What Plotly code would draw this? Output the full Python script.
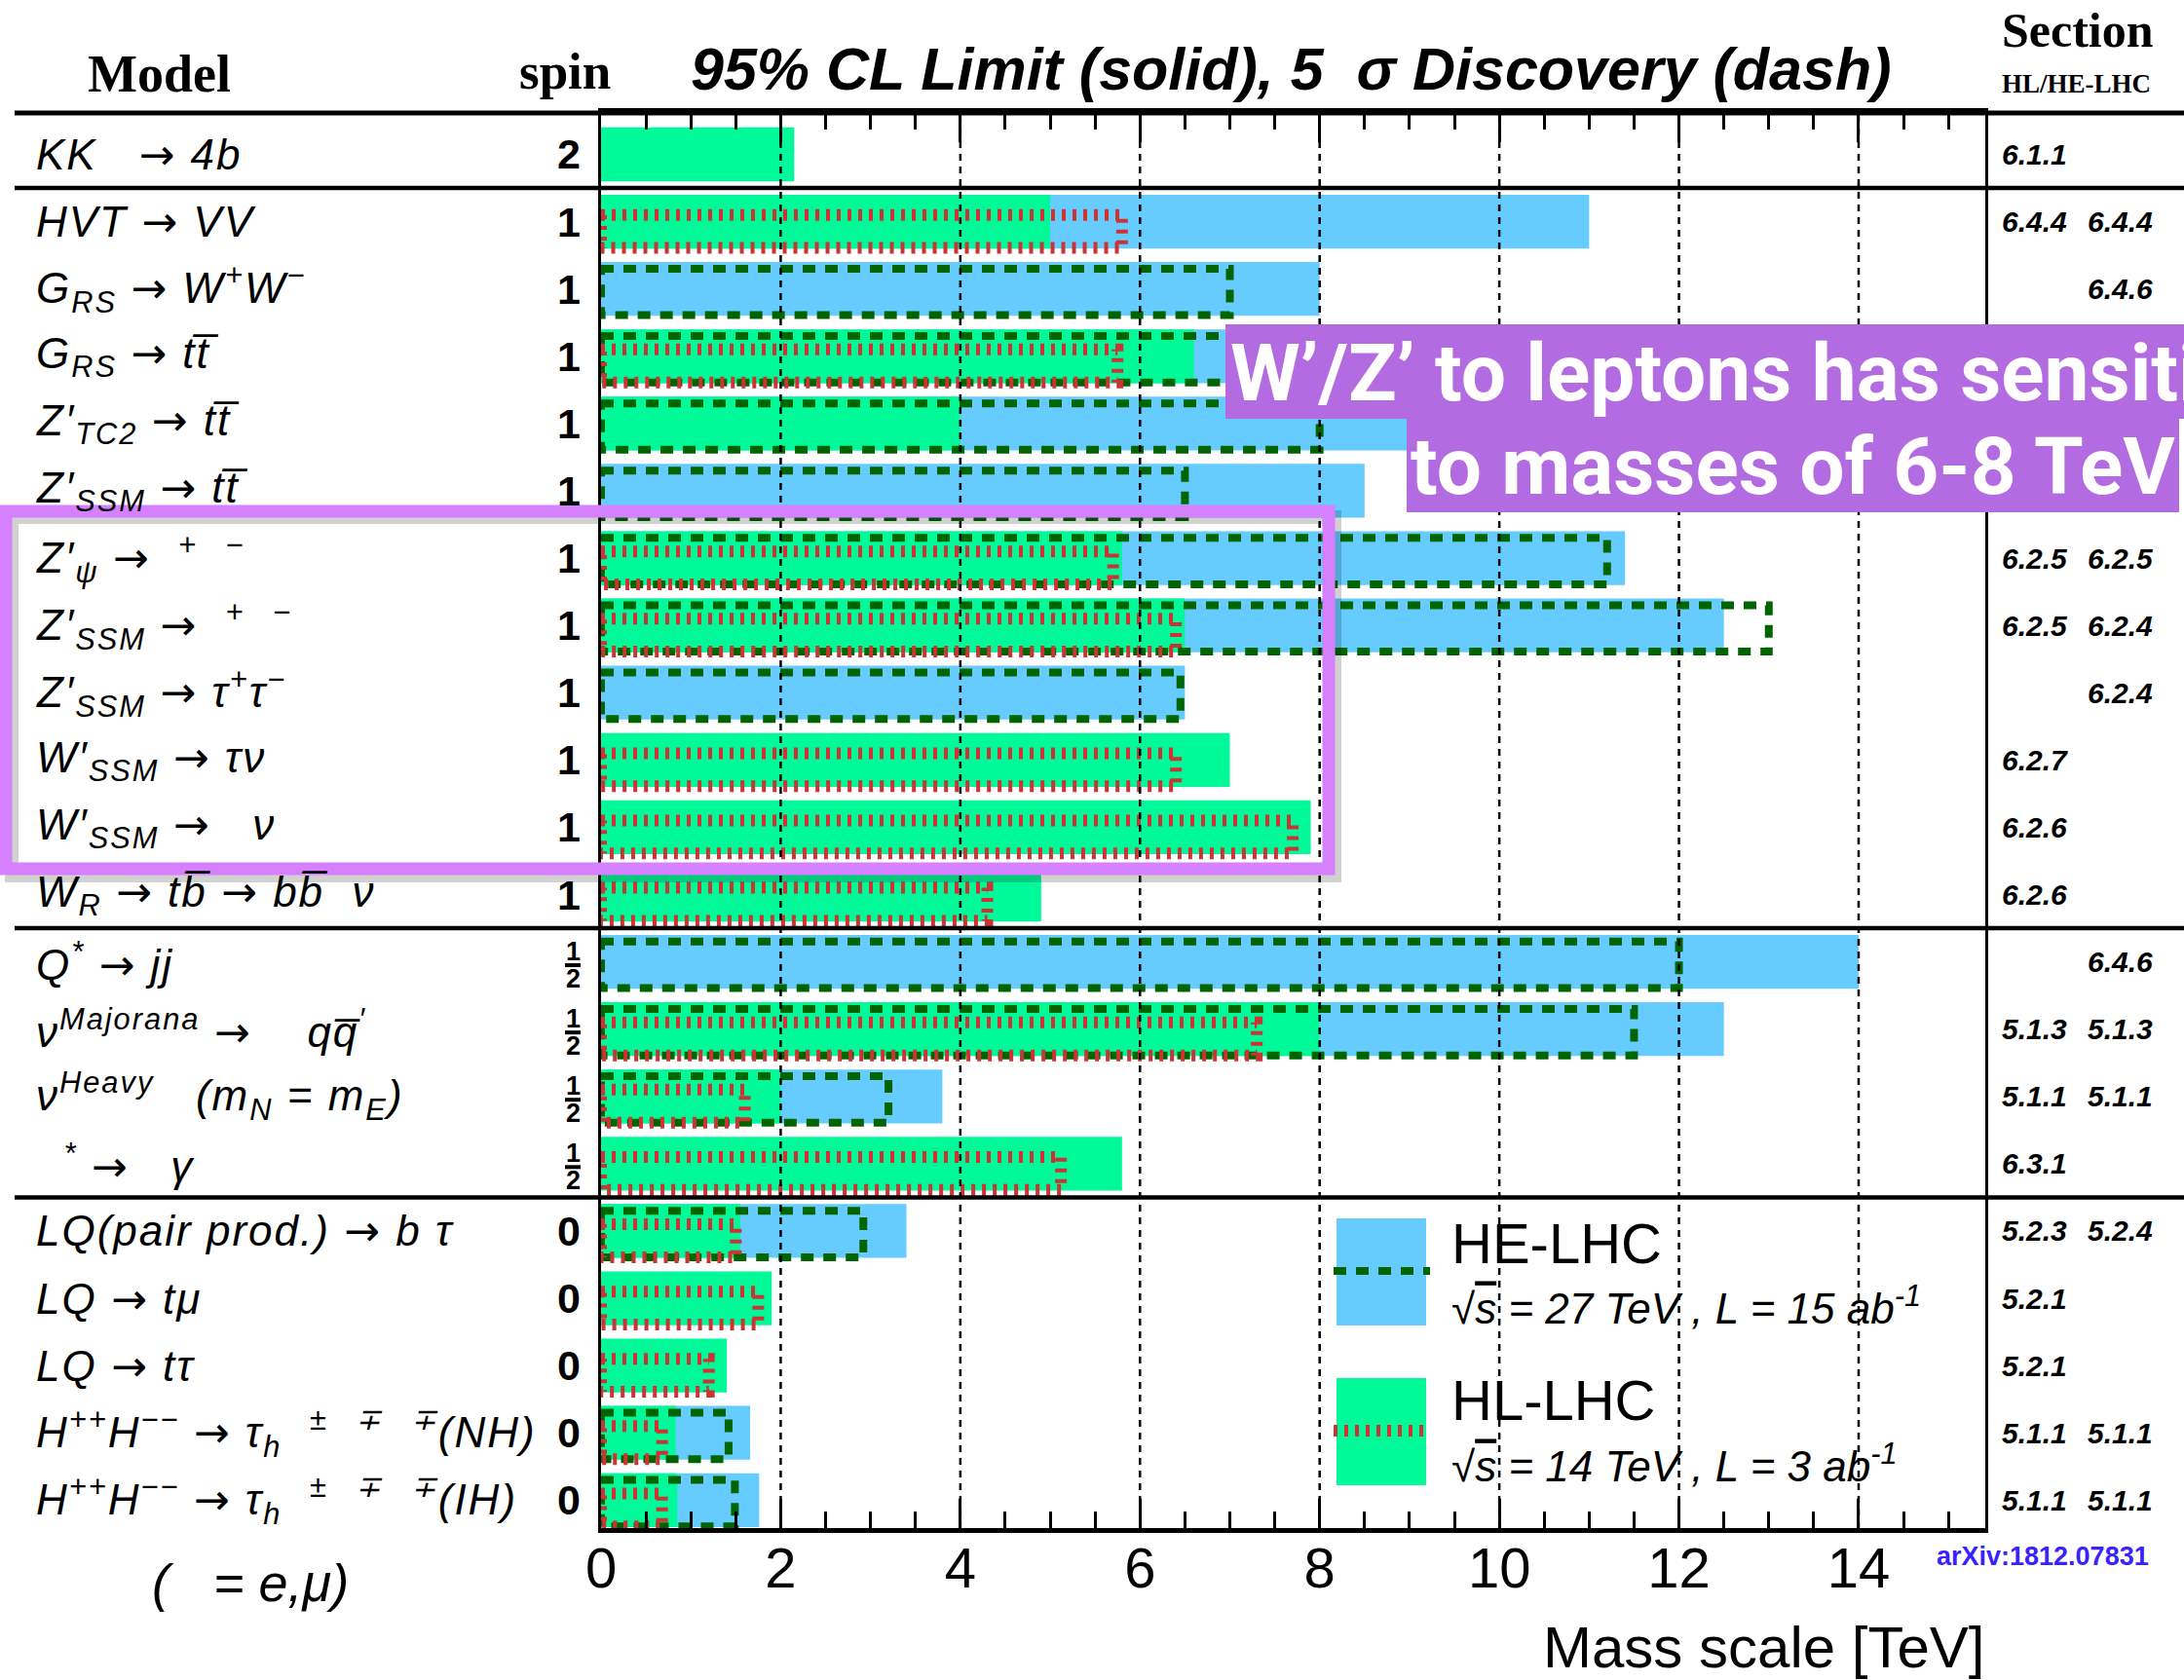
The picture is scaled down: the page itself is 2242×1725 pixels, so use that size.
import plotly.graph_objects as go

# ---------------- data ----------------
NB = "\u00a0"
OV = "\u0305"  # combining overline
AR = "<span style='font-family:DejaVu Sans'>→</span>"

models = [
    f"KK{NB}{NB} {AR} 4b",
    f"HVT {AR} VV",
    f"G<sub>RS</sub> {AR} W<sup>+</sup>W<sup>−</sup>",
    f"G<sub>RS</sub> {AR} tt{OV}",
    f"Z′<sub>TC2</sub> {AR} tt{OV}",
    f"Z′<sub>SSM</sub> {AR} tt{OV}",
    f"Z′<sub>ψ</sub> {AR}{NB*2}<sup>+</sup>{NB*2}<sup>−</sup>",
    f"Z′<sub>SSM</sub> {AR}{NB*2}<sup>+</sup>{NB*2}<sup>−</sup>",
    f"Z′<sub>SSM</sub> {AR} τ<sup>+</sup>τ<sup>−</sup>",
    f"W′<sub>SSM</sub> {AR} τν",
    f"W′<sub>SSM</sub> {AR}{NB*3}ν",
    f"W<sub>R</sub> {AR} tb{OV} {AR} bb{OV}{NB*2}ν",
    f"Q<sup>*</sup> {AR} jj",
    f"ν<sup>Majorana</sup> {AR}{NB*4}qq{OV}<sup>′</sup>",
    f"ν<sup>Heavy</sup>{NB*3}(m<sub>N</sub> = m<sub>E</sub>)",
    f"{NB*2}<sup>*</sup> {AR}{NB*3}γ",
    f"LQ(pair prod.) {AR} b τ",
    f"LQ {AR} tμ",
    f"LQ {AR} tτ",
    f"H<sup>++</sup>H<sup>−−</sup> {AR} τ<sub>h</sub>{NB*2}<sup>±</sup>{NB*2}<sup>∓</sup>{NB*2}<sup>∓</sup>(NH)",
    f"H<sup>++</sup>H<sup>−−</sup> {AR} τ<sub>h</sub>{NB*2}<sup>±</sup>{NB*2}<sup>∓</sup>{NB*2}<sup>∓</sup>(IH)",
]
spins = ["2", "1", "1", "1", "1", "1", "1", "1", "1", "1", "1", "1",
         "1/2", "1/2", "1/2", "1/2", "0", "0", "0", "0", "0"]

# HE-LHC (27 TeV, 15 ab-1): 95% CL limit (solid) and 5 sigma discovery (dash), TeV
he_limit = [None, 11.0, 8.0, 9.5, 10.5, 8.5, 11.4, 12.5, 6.5, None, None, None,
            14.0, 12.5, 3.8, None, 3.4, None, None, 1.66, 1.76]
he_disc = [None, None, 7.0, 8.3, 8.0, 6.5, 11.2, 13.0, 6.45, None, None, None,
           12.0, 11.5, 3.2, None, 2.92, None, None, 1.42, 1.49]
# HL-LHC (14 TeV, 3 ab-1)
hl_limit = [2.15, 5.0, None, 6.6, 4.0, None, 5.8, 6.5, None, 7.0, 7.9, 4.9,
            None, 8.0, 2.0, 5.8, 1.55, 1.9, 1.4, 0.83, 0.85]
hl_disc = [None, 5.8, None, 5.75, None, None, 5.7, 6.4, None, 6.4, 7.7, 4.3,
           None, 7.3, 1.6, 5.12, 1.5, 1.75, 1.2, 0.68, 0.68]

sec_hl = ["6.1.1", "6.4.4", "", "", "", "", "6.2.5", "6.2.5", "", "6.2.7", "6.2.6", "6.2.6",
          "", "5.1.3", "5.1.1", "6.3.1", "5.2.3", "5.2.1", "5.2.1", "5.1.1", "5.1.1"]
sec_he = ["", "6.4.4", "6.4.6", "", "", "", "6.2.5", "6.2.4", "6.2.4", "", "", "",
          "6.4.6", "5.1.3", "5.1.1", "", "5.2.4", "", "", "5.1.1", "5.1.1"]

tick_vals = [0, 2, 4, 6, 8, 10, 12, 14]
group_breaks = [0.5, 11.5, 15.5]

# ---------------- style / geometry ----------------
W, H = 2242, 1725
ML, MR, MT, MB = 617, 204, 116, 156
PW = W - ML - MR
PH = H - MT - MB
XMAX = 15.41
Y_TOP, Y_BOT = -0.615, 20.415

BLUE = "#66CCFF"
GREEN = "#00FA9A"
DKGREEN = "#006400"
RED = "#CC3333"
SANS = "Liberation Sans"
SERIF = "Liberation Serif"


def X(px):
    return (px - ML) / PW


def Y(py):
    return 1 - (py - MT) / PH


def present(vals):
    xs = [v for v in vals if v is not None]
    ys = [i for i, v in enumerate(vals) if v is not None]
    return xs, ys


def box_path(vals, top, bot):
    xs, ys = [], []
    for i, v in enumerate(vals):
        if v is None:
            continue
        xs += [0, v, v, 0, 0, None]
        ys += [i + top, i + top, i + bot, i + bot, i + top, None]
    return xs, ys


fig = go.Figure()

bx, by = present(he_limit)
fig.add_trace(go.Bar(x=bx, y=by, orientation="h", width=0.8, base=0,
                     marker=dict(color=BLUE, line=dict(width=0)), name="HE-LHC"))
gx, gy = present(hl_limit)
fig.add_trace(go.Bar(x=gx, y=gy, orientation="h", width=0.8, base=0,
                     marker=dict(color=GREEN, line=dict(width=0)), name="HL-LHC"))

hx, hy = box_path(he_disc, -0.30, 0.39)
fig.add_trace(go.Scatter(x=hx, y=hy, mode="lines",
                         line=dict(color=DKGREEN, width=8, dash="13px,10px"),
                         name="HE-LHC discovery"))
rx, ry = box_path(hl_disc, -0.10, 0.39)
fig.add_trace(go.Scatter(x=rx, y=ry, mode="lines",
                         line=dict(color=RED, width=12, dash="4px,7px"),
                         name="HL-LHC discovery"))

shapes = []
ann = []

# dashed vertical grid on top of bars
for v in tick_vals[1:]:
    shapes.append(dict(type="line", xref="x", yref="paper", x0=v, x1=v, y0=0, y1=1,
                       line=dict(color="black", width=2.5, dash="7px,6px"), layer="above"))

# horizontal separators
shapes.append(dict(type="line", xref="paper", yref="paper", x0=X(15), x1=X(W + 5), y0=1, y1=1,
                   line=dict(color="black", width=5), layer="above"))
for b in group_breaks:
    shapes.append(dict(type="line", xref="paper", yref="y", x0=X(15), x1=X(W + 5), y0=b, y1=b,
                       line=dict(color="black", width=4.5), layer="above"))

# legend (drawn by hand)
shapes += [
    dict(type="rect", xref="paper", yref="paper", x0=X(1372), x1=X(1464), y0=Y(1361), y1=Y(1251),
         fillcolor=BLUE, line=dict(width=0), layer="above"),
    dict(type="line", xref="paper", yref="paper", x0=X(1369), x1=X(1468), y0=Y(1305), y1=Y(1305),
         line=dict(color=DKGREEN, width=8, dash="13px,10px"), layer="above"),
    dict(type="rect", xref="paper", yref="paper", x0=X(1372), x1=X(1464), y0=Y(1525), y1=Y(1415),
         fillcolor=GREEN, line=dict(width=0), layer="above"),
    dict(type="line", xref="paper", yref="paper", x0=X(1369), x1=X(1468), y0=Y(1469), y1=Y(1469),
         line=dict(color=RED, width=12, dash="4px,7px"), layer="above"),
]

# purple call-out boxes
PURPLE = "#B36BE2"
shapes += [
    dict(type="rect", xref="paper", yref="paper", x0=X(1258), x1=X(W + 10), y0=Y(430), y1=Y(333),
         fillcolor=PURPLE, line=dict(width=0), layer="above"),
    dict(type="rect", xref="paper", yref="paper", x0=X(1444), x1=X(2237), y0=Y(526), y1=Y(429),
         fillcolor=PURPLE, line=dict(width=0), layer="above"),
]
# magenta highlight frame with soft shadow
shapes += [
    dict(type="rect", xref="paper", yref="paper", x0=X(12), x1=X(1370), y0=Y(899), y1=Y(531),
         line=dict(color="rgba(0,0,0,0.18)", width=14), layer="above"),
    dict(type="rect", xref="paper", yref="paper", x0=X(6), x1=X(1364), y0=Y(892), y1=Y(525),
         line=dict(color="#D580FF", width=13), layer="above"),
]

LS = "letter-spacing:2px"

# row labels, spins and section numbers
for i, m in enumerate(models):
    ann.append(dict(text=f"<span style='{LS}'><i>{m}</i></span>", xref="paper", yref="y",
                    x=X(35), y=i, xanchor="left", yanchor="middle", showarrow=False,
                    font=dict(family=SANS, size=44, color="black")))
    s = spins[i]
    if s == "1/2":
        ann.append(dict(text="<b>1</b>", xref="paper", yref="y", x=X(588), y=i, yshift=11,
                        xanchor="center", yanchor="middle", showarrow=False,
                        font=dict(family=SANS, size=27, color="black")))
        ann.append(dict(text="<b>2</b>", xref="paper", yref="y", x=X(588), y=i, yshift=-17,
                        xanchor="center", yanchor="middle", showarrow=False,
                        font=dict(family=SANS, size=27, color="black")))
        shapes.append(dict(type="line", xref="paper", yref="y", x0=X(580), x1=X(596),
                           y0=i + 0.05, y1=i + 0.05, line=dict(color="black", width=4)))
    else:
        ann.append(dict(text=f"<b>{s}</b>", xref="paper", yref="y", x=X(598), y=i,
                        xanchor="right", yanchor="middle", showarrow=False,
                        font=dict(family=SANS, size=43, color="black")))
    if sec_hl[i]:
        ann.append(dict(text=f"<b><i>{sec_hl[i]}</i></b>", xref="paper", yref="y", x=X(2053), y=i,
                        xanchor="left", yanchor="middle", showarrow=False,
                        font=dict(family=SANS, size=30, color="black")))
    if sec_he[i]:
        ann.append(dict(text=f"<b><i>{sec_he[i]}</i></b>", xref="paper", yref="y", x=X(2141), y=i,
                        xanchor="left", yanchor="middle", showarrow=False,
                        font=dict(family=SANS, size=30, color="black")))

# header texts
ann += [
    dict(text="<b>Model</b>", x=X(163), y=Y(76), xanchor="center", yanchor="middle",
         font=dict(family=SERIF, size=54, color="black")),
    dict(text="<b>spin</b>", x=X(580), y=Y(73), xanchor="center", yanchor="middle",
         font=dict(family=SERIF, size=53, color="black")),
    dict(text="<b><i>95% CL Limit (solid), 5" + NB * 2 + "σ Discovery (dash)</i></b>",
         x=X(1325), y=Y(71), xanchor="center", yanchor="middle",
         font=dict(family=SANS, size=61, color="black")),
    dict(text="<b>Section</b>", x=X(2053), y=Y(31), xanchor="left", yanchor="middle",
         font=dict(family=SERIF, size=50, color="black")),
    dict(text="<b>HL/HE-LHC</b>", x=X(2053), y=Y(86), xanchor="left", yanchor="middle",
         font=dict(family=SERIF, size=27, color="black")),
    dict(text="<i>(" + NB * 3 + "= e,μ)</i>", x=X(154), y=Y(1625), xanchor="left", yanchor="middle",
         font=dict(family=SANS, size=54, color="black")),
    dict(text="<b>arXiv:1812.07831</b>", x=X(1986), y=Y(1598), xanchor="left", yanchor="middle",
         font=dict(family=SANS, size=27, color="#3A1FFF")),
    dict(text="Mass scale [TeV]", x=X(2040), y=Y(1692), xanchor="right", yanchor="middle",
         font=dict(family=SANS, size=60, color="black")),
    # legend texts
    dict(text="HE-LHC", x=X(1488), y=Y(1276), xanchor="left", yanchor="middle",
         font=dict(family=SANS, size=58, color="black")),
    dict(text="<i>√<span style='text-decoration:overline'>s</span> = 27 TeV , L = 15 ab<sup>-1</sup></i>",
         x=X(1488), y=Y(1340), xanchor="left", yanchor="middle",
         font=dict(family=SANS, size=44, color="black")),
    dict(text="HL-LHC", x=X(1488), y=Y(1437), xanchor="left", yanchor="middle",
         font=dict(family=SANS, size=58, color="black")),
    dict(text="<i>√<span style='text-decoration:overline'>s</span> = 14 TeV , L = 3 ab<sup>-1</sup></i>",
         x=X(1488), y=Y(1502), xanchor="left", yanchor="middle",
         font=dict(family=SANS, size=44, color="black")),
    # call-out
    dict(text="<b>W’/Z’ to leptons has sensitivity</b>", x=X(1261), y=Y(383),
         xanchor="left", yanchor="middle",
         font=dict(family="Roboto", size=82, color="white")),
    dict(text="<b>to masses of 6-8 TeV</b>", x=X(1446), y=Y(479),
         xanchor="left", yanchor="middle",
         font=dict(family="Roboto", size=82, color="white")),
]
for a in ann:
    a.setdefault("xref", "paper")
    a.setdefault("yref", "paper")
    a["showarrow"] = False

fig.update_layout(
    width=W, height=H,
    margin=dict(l=ML, r=MR, t=MT, b=MB, pad=0),
    paper_bgcolor="white", plot_bgcolor="white",
    barmode="overlay", showlegend=False,
    font=dict(family=SANS, color="black"),
    shapes=shapes, annotations=ann,
    xaxis=dict(range=[0, XMAX], tickvals=tick_vals, ticktext=[str(v) for v in tick_vals],
               ticks="inside", ticklen=30, tickwidth=2.5, tickcolor="black",
               showline=True, linewidth=4.5, linecolor="black", mirror="ticks",
               showgrid=False, zeroline=False,
               tickfont=dict(family=SANS, size=58, color="black"),
               ticklabelstandoff=-13,
               minor=dict(dtick=0.5, ticks="inside", ticklen=17, tickwidth=2.5,
                          tickcolor="black", showgrid=False)),
    yaxis=dict(range=[Y_BOT, Y_TOP], showticklabels=False, ticks="",
               showline=True, linewidth=2.5, linecolor="black", mirror=True,
               showgrid=False, zeroline=False),
)

fig.write_html("out.html")
